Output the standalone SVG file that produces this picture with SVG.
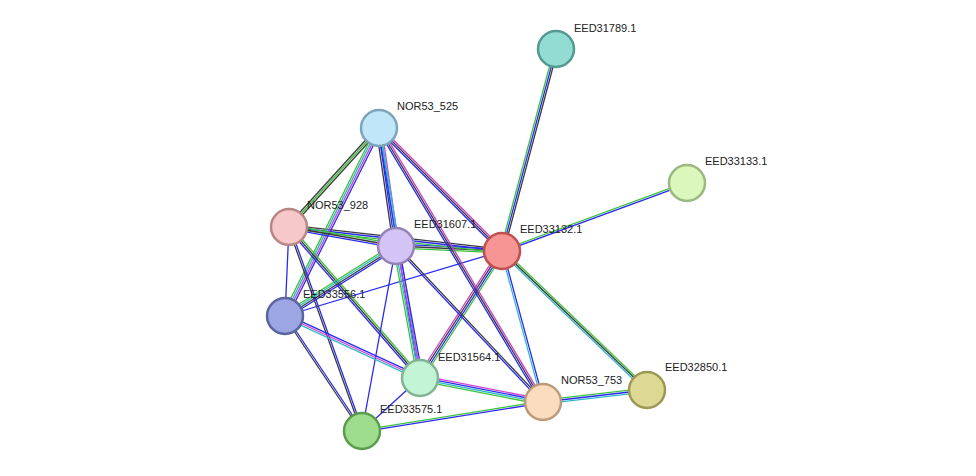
<svg xmlns="http://www.w3.org/2000/svg" width="976" height="476" viewBox="0 0 976 476">
<style>
line{stroke-width:1.3;fill:none}
.g{stroke:#3cc23c}.b{stroke:#2a2af0}.k{stroke:#3a3a3a}.m{stroke:#d040d0}.c{stroke:#30b8c8}
circle{stroke-width:2.5}
text{font-family:"Liberation Sans",Arial,sans-serif;font-size:11px;fill:#222}
</style>
<rect width="976" height="476" fill="#fff"/>
<g id="connectors">
<line class="g" x1="500.3" y1="250.5" x2="554.3" y2="48.5"/><line class="b" x1="502" y1="251" x2="556" y2="49"/><line class="k" x1="503.7" y1="251.5" x2="557.7" y2="49.5"/>
<line class="g" x1="501.7" y1="250.2" x2="686.7" y2="182.2"/><line class="b" x1="502.3" y1="251.8" x2="687.3" y2="183.8"/>
<line class="g" x1="503.2" y1="249.7" x2="648.2" y2="388.7"/><line class="k" x1="502" y1="251" x2="647" y2="390"/><line class="c" x1="500.8" y1="252.3" x2="645.8" y2="391.3"/>
<line class="b" x1="502.9" y1="250.8" x2="543.9" y2="401.8"/><line class="c" x1="501.1" y1="251.2" x2="542.1" y2="402.2"/>
<line class="b" x1="500.7" y1="252.3" x2="377.7" y2="129.3"/><line class="k" x1="502" y1="251" x2="379" y2="128"/><line class="m" x1="503.3" y1="249.7" x2="380.3" y2="126.7"/>
<line class="g" x1="501.9" y1="252.8" x2="395.9" y2="247.8"/><line class="k" x1="502" y1="251" x2="396" y2="246"/><line class="b" x1="502.1" y1="249.2" x2="396.1" y2="244.2"/>
<line class="g" x1="501.8" y1="252.8" x2="288.8" y2="228.8"/><line class="b" x1="502" y1="251" x2="289" y2="227"/><line class="k" x1="502.2" y1="249.2" x2="289.2" y2="225.2"/>
<line class="b" x1="502" y1="251" x2="285" y2="316"/>
<line class="g" x1="504.3" y1="252.5" x2="422.3" y2="379.5"/><line class="b" x1="502.8" y1="251.5" x2="420.8" y2="378.5"/><line class="k" x1="501.2" y1="250.5" x2="419.2" y2="377.5"/><line class="m" x1="499.7" y1="249.5" x2="417.7" y2="376.5"/>
<line class="k" x1="380.3" y1="129.2" x2="290.3" y2="228.2"/><line class="g" x1="379" y1="128" x2="289" y2="227"/><line class="k" x1="377.7" y1="126.8" x2="287.7" y2="225.8"/>
<line class="m" x1="381.7" y1="127.6" x2="398.7" y2="245.6"/><line class="c" x1="379.9" y1="127.9" x2="396.9" y2="245.9"/><line class="b" x1="378.1" y1="128.1" x2="395.1" y2="246.1"/><line class="k" x1="376.3" y1="128.4" x2="393.3" y2="246.4"/>
<line class="b" x1="381.4" y1="129.2" x2="287.4" y2="317.2"/><line class="m" x1="379.8" y1="128.4" x2="285.8" y2="316.4"/><line class="c" x1="378.2" y1="127.6" x2="284.2" y2="315.6"/><line class="g" x1="376.6" y1="126.8" x2="282.6" y2="314.8"/>
<line class="c" x1="379.9" y1="127.9" x2="420.9" y2="377.9"/><line class="b" x1="378.1" y1="128.1" x2="419.1" y2="378.1"/>
<line class="m" x1="380.5" y1="127.1" x2="544.5" y2="401.1"/><line class="k" x1="379" y1="128" x2="543" y2="402"/><line class="b" x1="377.5" y1="128.9" x2="541.5" y2="402.9"/>
<line class="g" x1="289.3" y1="225.2" x2="396.3" y2="244.2"/><line class="k" x1="289" y1="227" x2="396" y2="246"/><line class="b" x1="288.7" y1="228.8" x2="395.7" y2="247.8"/>
<line class="g" x1="290.4" y1="225.8" x2="421.4" y2="376.8"/><line class="k" x1="289" y1="227" x2="420" y2="378"/><line class="b" x1="287.6" y1="228.2" x2="418.6" y2="379.2"/>
<line class="b" x1="289.9" y1="226.7" x2="362.9" y2="430.7"/><line class="k" x1="288.2" y1="227.3" x2="361.2" y2="431.3"/>
<line class="b" x1="289" y1="227" x2="285" y2="316"/>
<line class="b" x1="397.4" y1="248.3" x2="286.4" y2="318.3"/><line class="k" x1="396.5" y1="246.8" x2="285.5" y2="316.8"/><line class="c" x1="395.5" y1="245.2" x2="284.5" y2="315.2"/><line class="g" x1="394.6" y1="243.7" x2="283.6" y2="313.7"/>
<line class="b" x1="398.7" y1="245.5" x2="422.7" y2="377.5"/><line class="m" x1="396.9" y1="245.8" x2="420.9" y2="377.8"/><line class="c" x1="395.1" y1="246.2" x2="419.1" y2="378.2"/><line class="g" x1="393.4" y1="246.5" x2="417.4" y2="378.5"/>
<line class="k" x1="396.7" y1="245.4" x2="543.7" y2="401.4"/><line class="b" x1="395.3" y1="246.6" x2="542.3" y2="402.6"/>
<line class="b" x1="396" y1="246" x2="362" y2="431"/>
<line class="b" x1="285.8" y1="314.4" x2="420.8" y2="376.4"/><line class="m" x1="285" y1="316" x2="420" y2="378"/><line class="c" x1="284.2" y1="317.6" x2="419.2" y2="379.6"/>
<line class="b" x1="285.7" y1="315.5" x2="362.7" y2="430.5"/><line class="k" x1="284.3" y1="316.5" x2="361.3" y2="431.5"/>
<line class="m" x1="420.5" y1="375.4" x2="543.5" y2="399.4"/><line class="b" x1="420.2" y1="377.1" x2="543.2" y2="401.1"/><line class="c" x1="419.8" y1="378.9" x2="542.8" y2="402.9"/><line class="g" x1="419.5" y1="380.7" x2="542.5" y2="404.7"/>
<line class="b" x1="420" y1="378" x2="362" y2="431"/>
<line class="g" x1="361.9" y1="430.1" x2="542.9" y2="401.1"/><line class="b" x1="362.1" y1="431.9" x2="543.1" y2="402.9"/>
<line class="g" x1="542.8" y1="400.2" x2="646.8" y2="388.2"/><line class="b" x1="543" y1="402" x2="647" y2="390"/><line class="c" x1="543.2" y1="403.8" x2="647.2" y2="391.8"/>
</g>
<g id="EED31789.1"><circle cx="556" cy="49" r="18" fill="#93dcd3" stroke="#559a92"/><text x="574" y="32">EED31789.1</text></g>
<g id="EED33133.1"><circle cx="687" cy="183" r="18" fill="#dcf7bc" stroke="#9ab880"/><text x="705" y="165">EED33133.1</text></g>
<g id="NOR53_525"><circle cx="379" cy="128" r="18" fill="#c0e6fa" stroke="#7ea4bc"/><text x="397" y="110">NOR53_525</text></g>
<g id="NOR53_928"><circle cx="289" cy="227" r="18" fill="#f6c8c8" stroke="#b88686"/><text x="307" y="209">NOR53_928</text></g>
<g id="EED31607.1"><circle cx="396" cy="246" r="18" fill="#d4c4f6" stroke="#9482b6"/><text x="414" y="228">EED31607.1</text></g>
<g id="EED33132.1"><circle cx="502" cy="251" r="18" fill="#f79494" stroke="#c05050"/><text x="520" y="233">EED33132.1</text></g>
<g id="EED33556.1"><circle cx="285" cy="316" r="18" fill="#9ca6e2" stroke="#5a649e"/><text x="303" y="298">EED33556.1</text></g>
<g id="EED31564.1"><circle cx="420" cy="378" r="18" fill="#c2f4d6" stroke="#80b494"/><text x="438" y="361">EED31564.1</text></g>
<g id="NOR53_753"><circle cx="543" cy="402" r="18" fill="#fcdcbe" stroke="#bc9a7c"/><text x="561" y="384">NOR53_753</text></g>
<g id="EED32850.1"><circle cx="647" cy="390" r="18" fill="#ddd894" stroke="#9c9856"/><text x="665" y="371">EED32850.1</text></g>
<g id="EED33575.1"><circle cx="362" cy="431" r="18" fill="#9edc8e" stroke="#5c9c4e"/><text x="380" y="413">EED33575.1</text></g>
</svg>
